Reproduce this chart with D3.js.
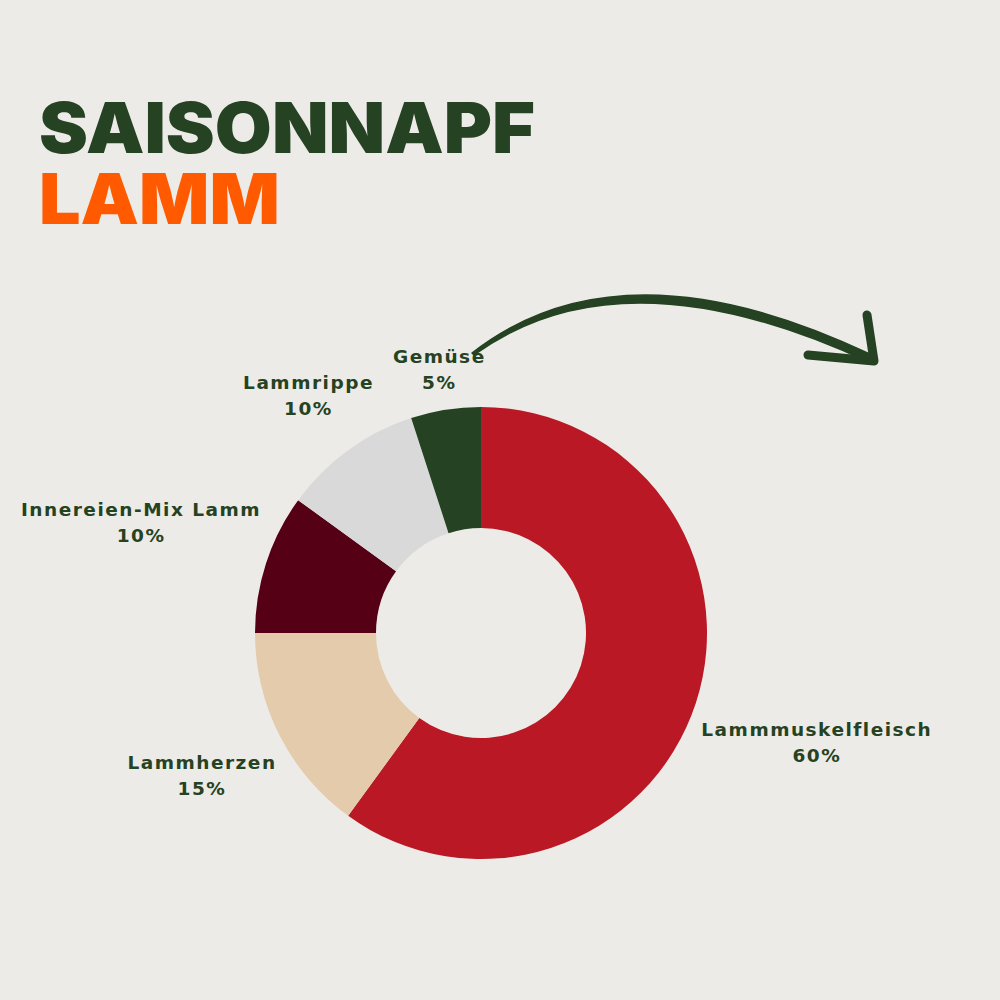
<!DOCTYPE html>
<html><head><meta charset="utf-8">
<script src="https://cdn.jsdelivr.net/npm/d3@7"></script>
<style>
html,body{margin:0;padding:0;background:#EDEBE7;}
svg{display:block;}
</style></head>
<body>
<svg id="c" width="1000" height="1000"></svg>
<script>
const titleLines = ["SAISONNAPF", "LAMM"];
const categories = ["Lammmuskelfleisch", "Lammherzen", "Innereien-Mix Lamm", "Lammrippe", "Gemüse"];
const values = [60, 15, 10, 10, 5];
const valueLabels = ["60%", "15%", "10%", "10%", "5%"];
const colors = ["#BA1824", "#E3CBAB", "#560016", "#D9D9D9", "#254222"];

const svg = d3.select("#c");
svg.append("rect").attr("width",1000).attr("height",1000).attr("fill","#EDEBE7");

// Title
const titleColors = ["#254222", "#FF5A00"];
const titleBase = [153, 224];
const titleWidthRef = 496;
let scaleX = null;
titleLines.forEach((t,i)=>{
  const tx = svg.append("text").text(t)
    .attr("font-family","Inter, 'Liberation Sans', sans-serif")
    .attr("font-weight",900).attr("font-size",70)
    .attr("fill",titleColors[i]);
  if (scaleX === null) {
    const w = tx.node().getComputedTextLength();
    scaleX = titleWidthRef / w;
  }
  tx.attr("transform",`translate(39,${titleBase[i]}) scale(${scaleX},1)`);
});

// Donut
const cx = 481, cy = 633, R = 226, r = 105;
const pie = d3.pie().sort(null).value(d=>d.v);
const data = categories.map((c,i)=>({c, v:values[i], l:valueLabels[i], col:colors[i]}));
const arcs = pie(data);
const arc = d3.arc().innerRadius(r).outerRadius(R);
const g = svg.append("g").attr("transform",`translate(${cx},${cy})`);
g.selectAll("path").data(arcs).join("path")
  .attr("d",arc).attr("fill",d=>d.data.col);

// Labels placed just outside the ring along mid-angle
const gap = 10, lineH = 26;
arcs.forEach(a=>{
  const mid = (a.startAngle + a.endAngle)/2;
  const ux = Math.sin(mid), uy = -Math.cos(mid);
  const t = g.append("text")
    .attr("font-family","'DejaVu Sans', sans-serif")
    .attr("font-weight",700).attr("font-size",18.5)
    .attr("letter-spacing","1.5px")
    .attr("fill","#254222").attr("text-anchor","middle");
  t.append("tspan").attr("x",0).attr("y",0).text(a.data.c);
  t.append("tspan").attr("x",0).attr("y",lineH).text(a.data.l);
  const bb = t.node().getBBox();
  const w = bb.width, h = bb.height;
  const d = R + gap + Math.abs(ux)*w/2 + Math.abs(uy)*h/2;
  const bx = ux*d, by = uy*d;
  const curCx = bb.x + bb.width/2, curCy = bb.y + bb.height/2;
  t.attr("transform",`translate(${bx-curCx},${by-curCy})`);
});

// Decorative arrow
const arrow = svg.append("g").attr("fill","#254222").attr("stroke","#254222");
const p = d3.path();
p.moveTo(472,353);
p.quadraticCurveTo(622,236,872,355);
p.lineTo(871,363);
p.quadraticCurveTo(622,247,474,355);
p.closePath();
arrow.append("path").attr("d",p.toString()).attr("stroke-width",1.5).attr("stroke-linejoin","round");
const head = d3.path();
head.moveTo(867,315); head.lineTo(874,361);
head.moveTo(808,355); head.lineTo(874,361);
arrow.append("path").attr("d",head.toString()).attr("fill","none")
  .attr("stroke-width",9).attr("stroke-linecap","round").attr("stroke-linejoin","round");
</script>
</body></html>
